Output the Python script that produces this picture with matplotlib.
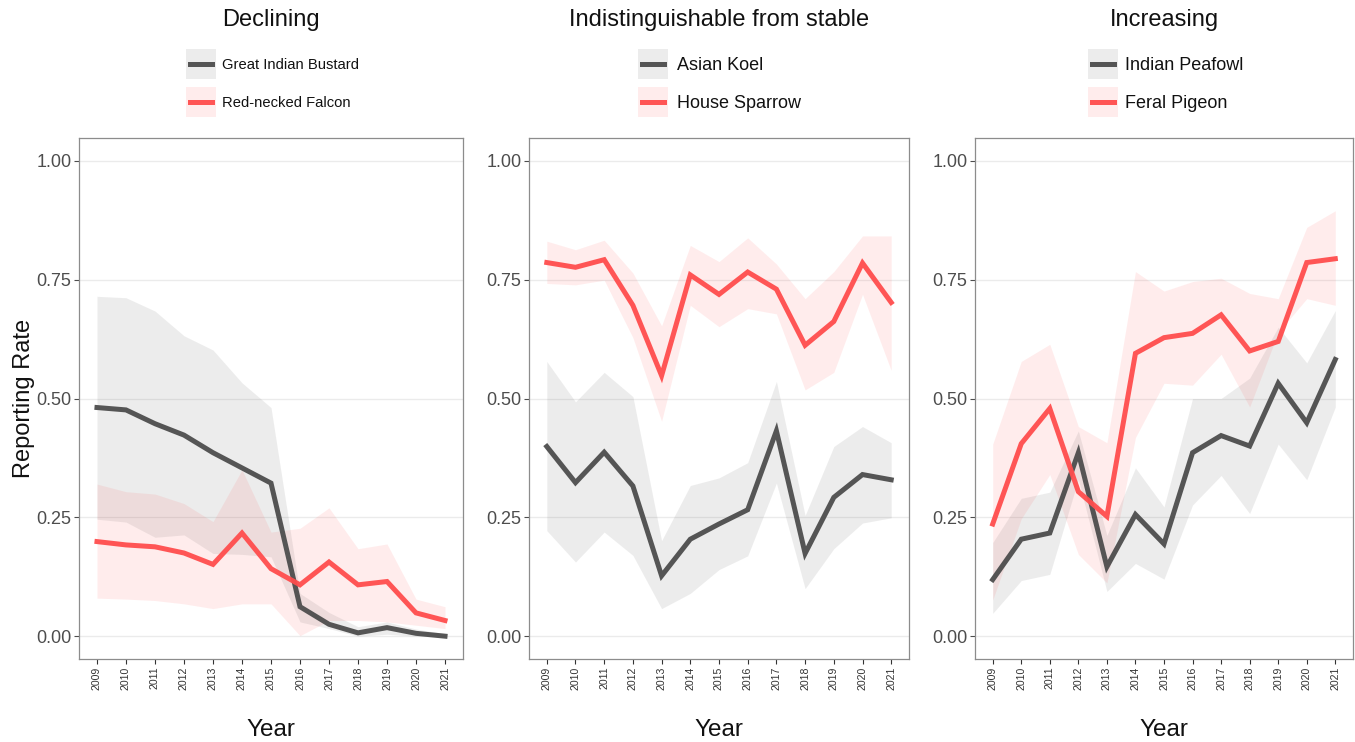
import matplotlib
matplotlib.use("Agg")
import matplotlib.pyplot as plt
from matplotlib.patches import Rectangle
from matplotlib.lines import Line2D
import numpy as np

plt.rcParams['font.family'] = ['Liberation Sans', 'DejaVu Sans']

years = list(range(2009, 2022))
year_labels = [str(y) for y in years]

# Declining
gib_mean = [0.481, 0.476, 0.447, 0.423, 0.386, 0.354, 0.322, 0.062, 0.025, 0.007, 0.018, 0.006, 0.000]
gib_lo   = [0.246, 0.240, 0.208, 0.213, 0.174, 0.172, 0.167, 0.030, 0.016, 0.000, 0.004, 0.000, 0.000]
gib_hi   = [0.715, 0.712, 0.684, 0.632, 0.602, 0.533, 0.481, 0.090, 0.050, 0.020, 0.030, 0.015, 0.005]
rnf_mean = [0.199, 0.192, 0.188, 0.175, 0.151, 0.217, 0.142, 0.108, 0.156, 0.108, 0.115, 0.049, 0.033]
rnf_lo   = [0.080, 0.078, 0.075, 0.068, 0.058, 0.068, 0.068, 0.001, 0.033, 0.033, 0.030, 0.023, 0.016]
rnf_hi   = [0.320, 0.304, 0.299, 0.279, 0.241, 0.350, 0.219, 0.227, 0.270, 0.184, 0.194, 0.078, 0.062]

# Indistinguishable from stable
koel_mean = [0.399, 0.323, 0.387, 0.316, 0.127, 0.204, 0.236, 0.266, 0.432, 0.174, 0.292, 0.340, 0.329]
koel_lo   = [0.222, 0.156, 0.219, 0.170, 0.058, 0.090, 0.140, 0.169, 0.322, 0.100, 0.184, 0.238, 0.249]
koel_hi   = [0.578, 0.493, 0.555, 0.504, 0.201, 0.317, 0.333, 0.365, 0.536, 0.254, 0.399, 0.441, 0.407]
hs_mean = [0.786, 0.776, 0.792, 0.696, 0.548, 0.760, 0.719, 0.766, 0.730, 0.612, 0.662, 0.785, 0.702]
hs_lo   = [0.742, 0.739, 0.749, 0.628, 0.452, 0.696, 0.651, 0.689, 0.678, 0.518, 0.555, 0.719, 0.559]
hs_hi   = [0.831, 0.813, 0.833, 0.764, 0.653, 0.822, 0.788, 0.838, 0.783, 0.710, 0.767, 0.842, 0.842]

# Increasing
pea_mean = [0.119, 0.204, 0.217, 0.386, 0.146, 0.256, 0.194, 0.386, 0.422, 0.400, 0.532, 0.449, 0.582]
pea_lo   = [0.048, 0.117, 0.130, 0.330, 0.094, 0.153, 0.120, 0.276, 0.338, 0.258, 0.404, 0.329, 0.482]
pea_hi   = [0.197, 0.290, 0.303, 0.432, 0.212, 0.354, 0.272, 0.500, 0.500, 0.543, 0.650, 0.575, 0.685]
pig_mean = [0.236, 0.405, 0.479, 0.304, 0.252, 0.595, 0.628, 0.637, 0.676, 0.600, 0.620, 0.786, 0.794]
pig_lo   = [0.076, 0.247, 0.340, 0.172, 0.112, 0.418, 0.532, 0.528, 0.593, 0.482, 0.639, 0.710, 0.696]
pig_hi   = [0.404, 0.578, 0.614, 0.441, 0.407, 0.767, 0.726, 0.746, 0.753, 0.721, 0.710, 0.860, 0.895]

titles = ["Declining", "Indistinguishable from stable", "Increasing"]
species = [("Great Indian Bustard", "Red-necked Falcon"),
           ("Asian Koel", "House Sparrow"),
           ("Indian Peafowl", "Feral Pigeon")]
series = [((gib_mean, gib_lo, gib_hi), (rnf_mean, rnf_lo, rnf_hi)),
          ((koel_mean, koel_lo, koel_hi), (hs_mean, hs_lo, hs_hi)),
          ((pea_mean, pea_lo, pea_hi), (pig_mean, pig_lo, pig_hi))]

DARK = "#4d4d4d"
RED = "#ff4d4d"
W, H = 1355, 742

fig = plt.figure(figsize=(W / 100, H / 100), dpi=100)

# panel extents in pixels: (left, right)
panels_px = [(79, 463), (529, 909), (975, 1353)]
top_px, bot_px = 138, 659
legend_px = [(186, 222, 10.6), (638, 677, 13.0), (1088, 1125, 13.0)]

def fx(px):
    return px / W

def fy(py):
    return 1 - py / H

x = np.arange(len(years))
for i, ((l, r), title, names, data) in enumerate(zip(panels_px, titles, species, series)):
    ax = fig.add_axes([fx(l), fy(bot_px), (r - l) / W, (bot_px - top_px) / H])
    (m1, lo1, hi1), (m2, lo2, hi2) = data
    ax.fill_between(x, lo1, hi1, color=DARK, alpha=0.1, linewidth=0)
    ax.fill_between(x, lo2, hi2, color=RED, alpha=0.1, linewidth=0)
    ax.plot(x, m1, color=DARK, lw=3.6, alpha=0.95, solid_joinstyle='miter', zorder=3)
    ax.plot(x, m2, color=RED, lw=3.6, alpha=0.95, solid_joinstyle='miter', zorder=3)

    ax.set_xlim(-0.62, len(years) - 1 + 0.62)
    ax.set_ylim(-0.048, 1.048)
    ax.set_yticks([0, 0.25, 0.5, 0.75, 1.0])
    ax.set_yticklabels(["0.00", "0.25", "0.50", "0.75", "1.00"])
    ax.set_xticks(x)
    ax.set_xticklabels(year_labels, rotation=90, fontsize=7.6, color="#4d4d4d")
    ax.tick_params(axis='y', labelsize=13, colors="#4d4d4d", length=3.5, width=0.8, pad=2)
    ax.tick_params(axis='x', colors="#333333", length=3.5, width=0.8, pad=2)
    ax.yaxis.grid(True, color="#ebebeb", lw=1.0)
    ax.set_axisbelow(True)
    for s in ax.spines.values():
        s.set_color("#8c8c8c")
        s.set_linewidth(0.9)
    ax.set_xlabel("Year", fontsize=17.5, labelpad=21, color="#111111")
    if i == 0:
        ax.set_ylabel("Reporting Rate", fontsize=17, labelpad=1, color="#111111")

    # panel title above the legend
    fig.text(fx((l + r) / 2), fy(20), title, ha='center', va='center',
             fontsize=17, color="#111111")

    # legend keys
    kx, tx, fs = legend_px[i]
    for j, (nm, col) in enumerate(zip(names, [DARK, RED])):
        cy = 64 + j * 38
        fig.patches.append(Rectangle((fx(kx), fy(cy + 15)), 30 / W, 30 / H,
                                     transform=fig.transFigure, facecolor=col,
                                     alpha=0.1, edgecolor='none'))
        fig.lines.append(Line2D([fx(kx + 4), fx(kx + 26)], [fy(cy), fy(cy)],
                                transform=fig.transFigure, color=col, lw=3.6, alpha=0.95))
        fig.text(fx(tx), fy(cy + 1), nm, ha='left', va='center', fontsize=fs, color="#111111")

fig.savefig("out.png", dpi=100)
